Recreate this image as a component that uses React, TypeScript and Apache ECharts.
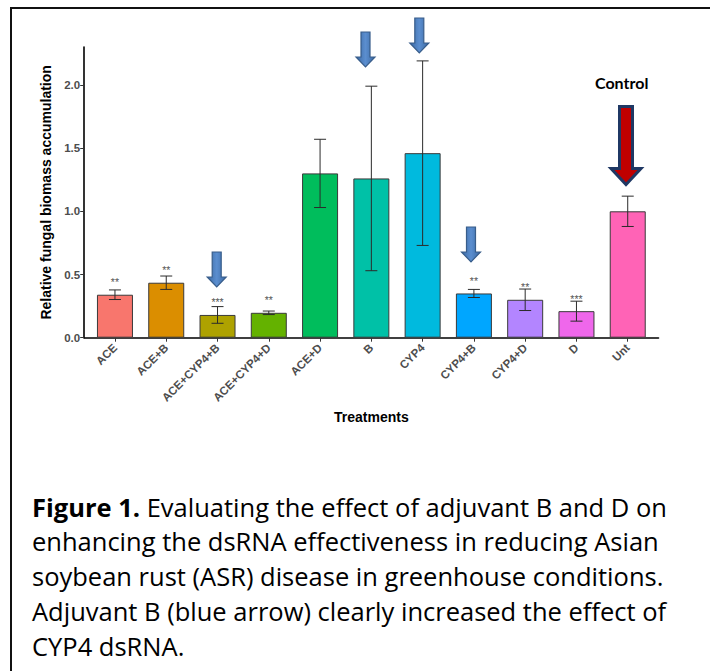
import React, { useEffect, useRef } from "react";
import * as echarts from "echarts";

const categories = ["ACE", "ACE+B", "ACE+CYP4+B", "ACE+CYP4+D", "ACE+D", "B", "CYP4", "CYP4+B", "CYP4+D", "D", "Unt"];
const means = [0.34, 0.435, 0.18, 0.197, 1.3, 1.26, 1.46, 0.35, 0.3, 0.21, 1.0];
const errors = [0.038, 0.053, 0.066, 0.014, 0.27, 0.73, 0.73, 0.032, 0.085, 0.079, 0.12];
const stars = ["**", "**", "***", "**", "", "", "", "**", "**", "***", ""];
const barColors = ["#F8766D", "#DB8E00", "#AEA200", "#64B200", "#00BD5C", "#00C1A7", "#00BADE", "#00A6FF", "#B385FF", "#EF67EB", "#FF63B6"];
const yTicks = [0, 0.5, 1, 1.5, 2];
const xTickValues = categories.map((_, i) => i);
const captionLines = [
  "{b|Figure 1.} Evaluating the effect of adjuvant B and D on",
  "enhancing the dsRNA effectiveness in reducing Asian",
  "soybean rust (ASR) disease in greenhouse conditions.",
  "Adjuvant B (blue arrow) clearly increased the effect of",
  "CYP4 dsRNA.",
];

const AXIS_FONT = '"Liberation Sans", Arial, sans-serif';
const CAP_FONT = '"Open Sans", Lato, sans-serif';

function arrowPoints(cx: number, top: number, tip: number, shaftW: number, headW: number, headH: number) {
  return [
    [cx - shaftW / 2, top],
    [cx + shaftW / 2, top],
    [cx + shaftW / 2, tip - headH],
    [cx + headW / 2, tip - headH],
    [cx, tip],
    [cx - headW / 2, tip - headH],
    [cx - shaftW / 2, tip - headH],
  ];
}

function blueArrow(cx: number, top: number, tip: number) {
  return {
    type: "polygon",
    z: 100,
    shape: { points: arrowPoints(cx, top, tip, 9, 19, 10) },
    style: {
      fill: new echarts.graphic.LinearGradient(0, 0, 1, 0, [
        { offset: 0, color: "#3B69A3" },
        { offset: 0.5, color: "#5B8ECF" },
        { offset: 1, color: "#3B69A3" },
      ]),
      stroke: "#385D8A",
      lineWidth: 1.2,
    },
  };
}

export default function App() {
  const ref = useRef<HTMLDivElement>(null);
  useEffect(() => {
    if (!ref.current) return;
    const chart = echarts.init(ref.current, undefined, { renderer: "svg" });
    const option: any = {
      animation: false,
      backgroundColor: "#ffffff",
      grid: { left: 84.2, top: 47, width: 574.3, height: 290.7, outerBoundsMode: "none" },
      xAxis: {
        type: "value",
        min: -0.6,
        max: 10.6,
        name: "Treatments",
        nameLocation: "middle",
        nameGap: 72,
        nameTextStyle: { fontFamily: AXIS_FONT, fontWeight: "bold", fontSize: 14, color: "#000" },
        splitLine: { show: false },
        axisLine: { show: true, onZero: false, lineStyle: { color: "#000", width: 1.6 } },
        axisTick: { show: true, customValues: xTickValues, length: 4, lineStyle: { color: "#333", width: 1 } },
        axisLabel: {
          customValues: xTickValues,
          rotate: 45,
          margin: 8,
          fontFamily: AXIS_FONT,
          fontWeight: "bold",
          fontSize: 11.5,
          color: "#4d4d4d",
          formatter: (v: number) => categories[Math.round(v)],
        },
      },
      yAxis: {
        type: "value",
        min: 0,
        max: 2.3,
        name: "Relative fungal biomass accumulation",
        nameLocation: "middle",
        nameGap: 23,
        nameTextStyle: { fontFamily: AXIS_FONT, fontWeight: "bold", fontSize: 14, color: "#000" },
        splitLine: { show: false },
        axisLine: { show: true, onZero: false, lineStyle: { color: "#000", width: 1.6 } },
        axisTick: { show: true, customValues: yTicks, length: 4, lineStyle: { color: "#333", width: 1 } },
        axisLabel: {
          customValues: yTicks,
          margin: 4,
          fontFamily: AXIS_FONT,
          fontWeight: "bold",
          fontSize: 11.5,
          color: "#4d4d4d",
          formatter: (v: number) => v.toFixed(1),
        },
      },
      series: [
        {
          type: "bar",
          barWidth: 36,
          data: means.map((m, i) => ({
            value: [i, m],
            itemStyle: { color: barColors[i], borderColor: "#3a3a3a", borderWidth: 1 },
          })),
        },
        {
          type: "custom",
          z: 10,
          data: means.map((m, i) => [i, m, errors[i]]),
          renderItem: (params: any, api: any) => {
            const i = api.value(0);
            const m = api.value(1);
            const e = api.value(2);
            const hi = api.coord([i, m + e]);
            const lo = api.coord([i, m - e]);
            const mid = api.coord([i, m]);
            const cap = 6;
            const st = { stroke: "#2b2b2b", lineWidth: 1 };
            const children: any[] = [
              { type: "line", shape: { x1: hi[0], y1: hi[1], x2: lo[0], y2: lo[1] }, style: st },
              { type: "line", shape: { x1: hi[0] - cap, y1: hi[1], x2: hi[0] + cap, y2: hi[1] }, style: st },
              { type: "line", shape: { x1: lo[0] - cap, y1: lo[1], x2: lo[0] + cap, y2: lo[1] }, style: st },
            ];
            const s = stars[params.dataIndex];
            if (s) {
              children.push({
                type: "text",
                x: mid[0],
                y: mid[1] - 12.5,
                style: {
                  text: s,
                  fill: "#555",
                  fontSize: 10.5,
                  fontFamily: AXIS_FONT,
                  align: "center",
                  verticalAlign: "middle",
                },
              });
            }
            return { type: "group", children };
          },
        },
      ],
      graphic: [
        { type: "line", shape: { x1: 10, y1: 8, x2: 710, y2: 8 }, style: { stroke: "#111", lineWidth: 2 } },
        { type: "line", shape: { x1: 11, y1: 7, x2: 11, y2: 671 }, style: { stroke: "#111", lineWidth: 2 } },
        blueArrow(216.7, 252, 287),
        blueArrow(365.5, 32, 67),
        blueArrow(419.3, 18, 53),
        blueArrow(471, 227, 262),
        {
          type: "polygon",
          z: 100,
          shape: { points: arrowPoints(626, 106.5, 184.5, 13, 30, 16) },
          style: { fill: "#C00000", stroke: "#1F3864", lineWidth: 3 },
        },
        {
          type: "text",
          x: 621.7,
          y: 82,
          style: {
            text: "Control",
            fill: "#000",
            fontFamily: 'Lato, "Open Sans", sans-serif',
            fontWeight: "bold",
            fontSize: 16,
            align: "center",
            verticalAlign: "middle",
          },
        },
        ...captionLines.map((t, k) => ({
          type: "text",
          x: 32,
          y: 506.5 + k * 34.9,
          style: {
            text: t,
            fill: "#000",
            fontFamily: CAP_FONT,
            fontSize: 25.5,
            align: "left",
            verticalAlign: "middle",
            rich: { b: { fontFamily: CAP_FONT, fontSize: 25.5, fontWeight: "bold", fill: "#000" } },
          },
        })),
      ],
    };
    chart.setOption(option);
    return () => chart.dispose();
  }, []);
  return (
    <div
      ref={ref}
      style={{ position: "fixed", left: 0, top: 0, width: 710, height: 671, background: "#fff" }}
    />
  );
}
